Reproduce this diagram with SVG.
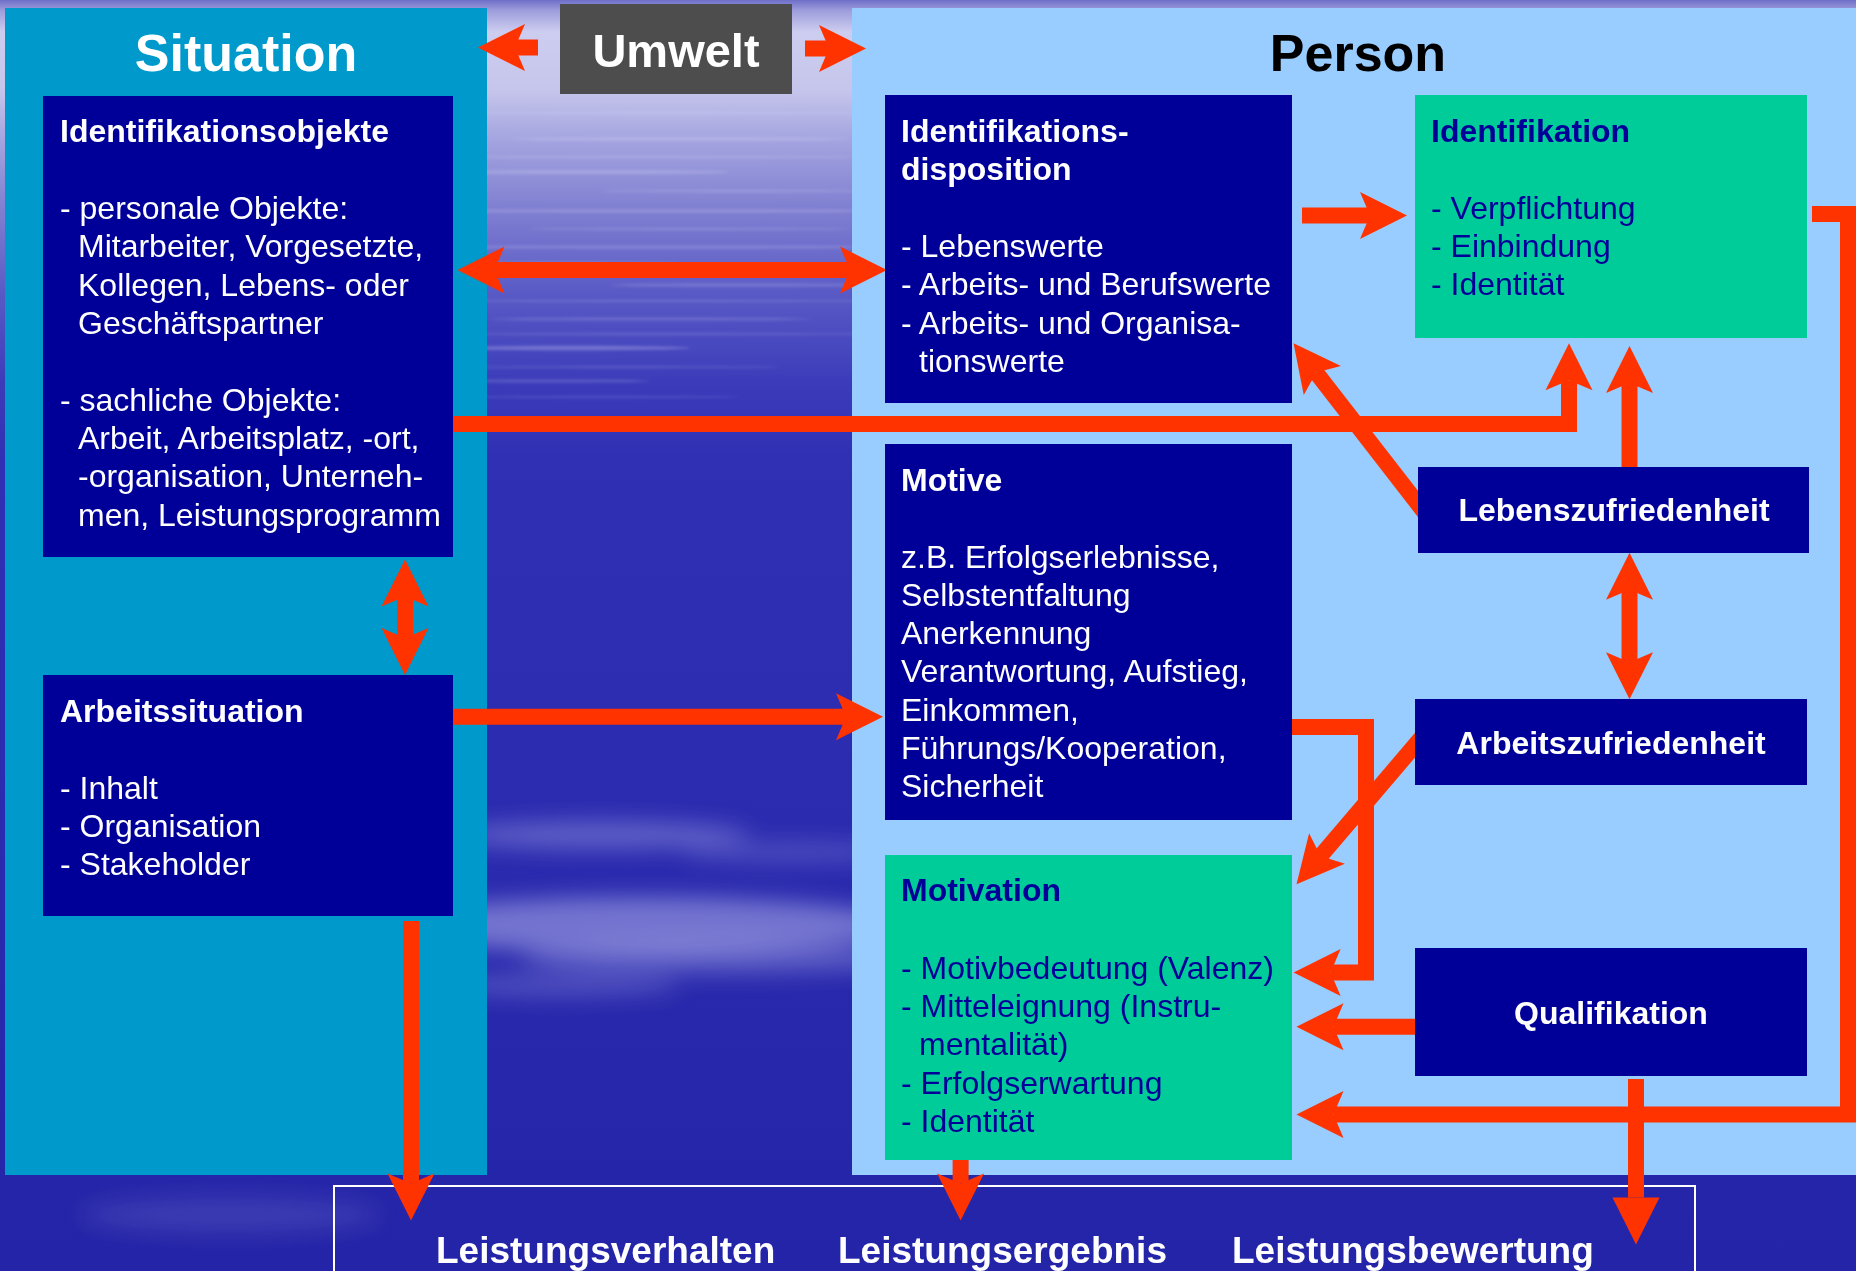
<svg xmlns="http://www.w3.org/2000/svg" width="1856" height="1271" viewBox="0 0 1856 1271">
<style>
.t{font-family:"Liberation Sans",Arial,Helvetica,sans-serif;font-size:32px;fill:#ffffff}
.b{font-weight:bold}
.g{fill:#000099}
.dk{fill:#000099}
.gr{fill:#00cc99}
.c{fill:none;stroke:#ff3300;stroke-width:16;stroke-linejoin:miter}
.ctr{text-anchor:middle}
</style>
<defs>
<linearGradient id="bg" x1="0" y1="0" x2="0" y2="1">
<stop offset="0" stop-color="#6e6ec8"/>
<stop offset="0.008" stop-color="#9c9cdc"/>
<stop offset="0.025" stop-color="#cdcdf0"/>
<stop offset="0.07" stop-color="#c6c6ec"/>
<stop offset="0.11" stop-color="#a4a4e0"/>
<stop offset="0.16" stop-color="#8282d2"/>
<stop offset="0.23" stop-color="#5a5ac6"/>
<stop offset="0.3" stop-color="#3c3cba"/>
<stop offset="0.36" stop-color="#3030b4"/>
<stop offset="0.6" stop-color="#2c2cb1"/>
<stop offset="0.8" stop-color="#2828ac"/>
<stop offset="1" stop-color="#2424a8"/>
</linearGradient>
<filter id="blur" filterUnits="userSpaceOnUse" x="0" y="0" width="1856" height="1271"><feGaussianBlur stdDeviation="11"/></filter>
<filter id="blur2" filterUnits="userSpaceOnUse" x="0" y="0" width="1856" height="1271"><feGaussianBlur stdDeviation="1.8"/></filter>
<marker id="ah" markerUnits="userSpaceOnUse" markerWidth="60" markerHeight="60" refX="0" refY="0" orient="auto-start-reverse" style="overflow:visible">
<path d="M37,0 L-10,-23.5 L0,0 L-10,23.5 Z" fill="#ff3300"/>
</marker>
<marker id="tri" markerUnits="userSpaceOnUse" markerWidth="60" markerHeight="60" refX="0" refY="0" orient="auto" style="overflow:visible">
<path d="M47,0 L0,-23.5 L0,23.5 Z" fill="#ff3300"/>
</marker>
</defs>

<g id="background">
<rect x="0" y="0" width="1856" height="1271" fill="url(#bg)"/>
<g filter="url(#blur2)" fill="#e8e8ff">
<ellipse cx="670" cy="113" rx="200" ry="1.2" opacity="0.2"/>
<ellipse cx="680" cy="139" rx="170" ry="1.6" opacity="0.25"/>
<ellipse cx="640" cy="157" rx="220" ry="1.2" opacity="0.2"/>
<ellipse cx="590" cy="172" rx="140" ry="1.8" opacity="0.25"/>
<ellipse cx="740" cy="191" rx="140" ry="1.2" opacity="0.2"/>
<ellipse cx="660" cy="211" rx="220" ry="1.6" opacity="0.22"/>
<ellipse cx="690" cy="229" rx="160" ry="1.2" opacity="0.18"/>
<ellipse cx="660" cy="247" rx="220" ry="1.6" opacity="0.2"/>
<ellipse cx="570" cy="263" rx="110" ry="1.2" opacity="0.18"/>
<ellipse cx="740" cy="285" rx="130" ry="1.6" opacity="0.2"/>
<ellipse cx="660" cy="301" rx="220" ry="1.2" opacity="0.15"/>
<ellipse cx="650" cy="319" rx="160" ry="1.6" opacity="0.18"/>
<ellipse cx="660" cy="334" rx="220" ry="1.2" opacity="0.14"/>
<ellipse cx="570" cy="348" rx="120" ry="2.2" opacity="0.28"/>
<ellipse cx="620" cy="367" rx="160" ry="1.2" opacity="0.14"/>
<ellipse cx="550" cy="381" rx="100" ry="1.6" opacity="0.18"/>
<ellipse cx="600" cy="397" rx="140" ry="1.2" opacity="0.12"/>
</g>
<g filter="url(#blur)" fill="#dcdcff">
<ellipse cx="600" cy="835" rx="150" ry="14" opacity="0.3"/>
<ellipse cx="790" cy="852" rx="110" ry="10" opacity="0.2"/>
<ellipse cx="640" cy="925" rx="260" ry="28" opacity="0.42"/>
<ellipse cx="720" cy="958" rx="200" ry="16" opacity="0.28"/>
<ellipse cx="560" cy="985" rx="120" ry="12" opacity="0.22"/>
<ellipse cx="230" cy="1215" rx="150" ry="18" opacity="0.12"/>
</g>
</g>

<g id="panel-situation">
<rect x="5" y="8" width="482" height="1167" fill="#0099cc"/>
<text class="t b ctr" x="246" y="71" style="font-size:52px">Situation</text>
</g>
<g id="panel-person">
<rect x="852" y="8" width="1004" height="1167" fill="#99ccff"/>
<text class="t b ctr" x="1358" y="71" style="font-size:52px;fill:#000000">Person</text>
</g>
<g id="umwelt">
<rect x="560" y="4" width="232" height="90" fill="#4d4d4d"/>
<text class="t b ctr" x="676" y="67" style="font-size:47px">Umwelt</text>
</g>
<g id="ergebnis-rahmen">
<rect x="334" y="1186" width="1361" height="120" fill="none" stroke="#ffffff" stroke-width="2"/>
<text class="t b" x="436" y="1263" style="font-size:37px">Leistungsverhalten</text>
<text class="t b" x="838" y="1263" style="font-size:37px">Leistungsergebnis</text>
<text class="t b" x="1232" y="1263" style="font-size:37px">Leistungsbewertung</text>
</g>

<g id="connectors">
<path class="c" d="M538,47.5 H515" marker-end="url(#ah)"/>
<path class="c" d="M805,48.5 H829" marker-end="url(#ah)"/>
<path class="c" d="M494.5,270 H850" marker-start="url(#ah)" marker-end="url(#ah)"/>
<path class="c" d="M1302,215.5 H1370" marker-end="url(#ah)"/>
<path class="c" d="M440,424 H1569 V380.3" marker-end="url(#ah)"/>
<path class="c" d="M1629.5,470 V383" marker-end="url(#ah)"/>
<path class="c" d="M1425,513 L1316.2,372.6" marker-end="url(#ah)"/>
<path class="c" d="M1629.5,589.7 V662.3" marker-start="url(#ah)" marker-end="url(#ah)"/>
<path class="c" d="M1285,727 H1366 V972.5 H1330.6" marker-end="url(#ah)"/>
<path class="c" d="M1422,737 L1320.5,856.1" marker-end="url(#ah)"/>
<path class="c" d="M1425,1026.7 H1333.5" marker-end="url(#ah)"/>
<path class="c" d="M1812,214 H1848 V1114.6 H1333.5" marker-end="url(#ah)"/>
<path class="c" d="M1636,1079 V1197.6" marker-end="url(#tri)"/>
<path class="c" d="M405,596.5 V638" marker-start="url(#ah)" marker-end="url(#ah)"/>
<path class="c" d="M411,921 V1183.5" marker-end="url(#ah)"/>
<path class="c" d="M960.6,1155 V1183.5" marker-end="url(#ah)"/>
<path class="c" d="M445,716.8 H846" marker-end="url(#ah)"/>
</g>

<g id="identifikationsobjekte">
<rect class="dk" x="43" y="96" width="410" height="461"/>
<text class="t b" x="60" y="142">Identifikationsobjekte</text>
<text class="t" x="60" y="219">- personale Objekte:</text>
<text class="t" x="78" y="257">Mitarbeiter, Vorgesetzte,</text>
<text class="t" x="78" y="296">Kollegen, Lebens- oder</text>
<text class="t" x="78" y="334">Geschäftspartner</text>
<text class="t" x="60" y="411">- sachliche Objekte:</text>
<text class="t" x="78" y="449">Arbeit, Arbeitsplatz, -ort,</text>
<text class="t" x="78" y="487">-organisation, Unterneh-</text>
<text class="t" x="78" y="526">men, Leistungsprogramm</text>
</g>
<g id="arbeitssituation">
<rect class="dk" x="43" y="675" width="410" height="241"/>
<text class="t b" x="60" y="722">Arbeitssituation</text>
<text class="t" x="60" y="799">- Inhalt</text>
<text class="t" x="60" y="837">- Organisation</text>
<text class="t" x="60" y="875">- Stakeholder</text>
</g>
<g id="identifikationsdisposition">
<rect class="dk" x="885" y="95" width="407" height="308"/>
<text class="t b" x="901" y="142">Identifikations-</text>
<text class="t b" x="901" y="180">disposition</text>
<text class="t" x="901" y="257">- Lebenswerte</text>
<text class="t" x="901" y="295">- Arbeits- und Berufswerte</text>
<text class="t" x="901" y="334">- Arbeits- und Organisa-</text>
<text class="t" x="919" y="372">tionswerte</text>
</g>
<g id="identifikation">
<rect class="gr" x="1415" y="95" width="392" height="243"/>
<text class="t b g" x="1431" y="142">Identifikation</text>
<text class="t g" x="1431" y="219">- Verpflichtung</text>
<text class="t g" x="1431" y="257">- Einbindung</text>
<text class="t g" x="1431" y="295">- Identität</text>
</g>
<g id="motive">
<rect class="dk" x="885" y="444" width="407" height="376"/>
<text class="t b" x="901" y="491">Motive</text>
<text class="t" x="901" y="568">z.B. Erfolgserlebnisse,</text>
<text class="t" x="901" y="606">Selbstentfaltung</text>
<text class="t" x="901" y="644">Anerkennung</text>
<text class="t" x="901" y="682">Verantwortung, Aufstieg,</text>
<text class="t" x="901" y="721">Einkommen,</text>
<text class="t" x="901" y="759">Führungs/Kooperation,</text>
<text class="t" x="901" y="797">Sicherheit</text>
</g>
<g id="motivation">
<rect class="gr" x="885" y="855" width="407" height="305"/>
<text class="t b g" x="901" y="901">Motivation</text>
<text class="t g" x="901" y="979">- Motivbedeutung (Valenz)</text>
<text class="t g" x="901" y="1017">- Mitteleignung (Instru-</text>
<text class="t g" x="919" y="1055">mentalität)</text>
<text class="t g" x="901" y="1094">- Erfolgserwartung</text>
<text class="t g" x="901" y="1132">- Identität</text>
</g>
<g id="lebenszufriedenheit">
<rect class="dk" x="1418" y="467" width="391" height="86"/>
<text class="t b ctr" x="1614" y="521">Lebenszufriedenheit</text>
</g>
<g id="arbeitszufriedenheit">
<rect class="dk" x="1415" y="699" width="392" height="86"/>
<text class="t b ctr" x="1611" y="754">Arbeitszufriedenheit</text>
</g>
<g id="qualifikation">
<rect class="dk" x="1415" y="948" width="392" height="128"/>
<text class="t b ctr" x="1611" y="1024">Qualifikation</text>
</g>
</svg>
